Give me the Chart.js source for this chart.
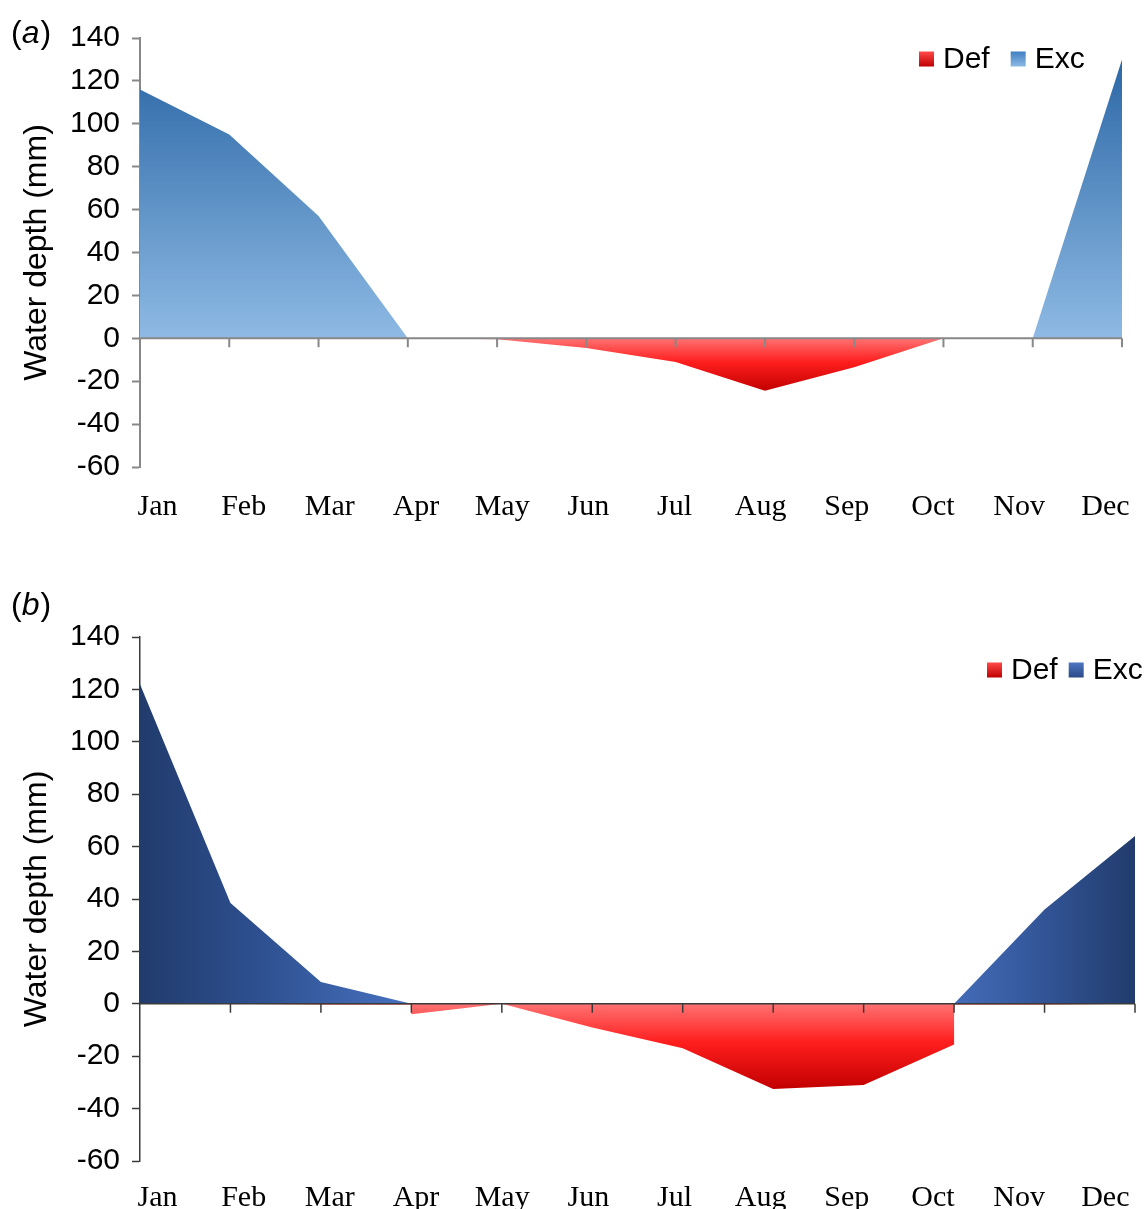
<!DOCTYPE html>
<html>
<head>
<meta charset="utf-8">
<script src="https://cdn.jsdelivr.net/npm/chart.js@4.4.1/dist/chart.umd.min.js"></script>
<style>
  html, body { margin: 0; padding: 0; background: #fff; overflow: hidden; }
  #wrap { position: relative; width: 1148px; height: 1209px; overflow: hidden; }
  canvas { position: absolute; left: 0; }
  #chartA { top: 0; }
  #chartB { top: 558px; }
</style>
</head>
<body>
<div id="wrap">
  <canvas id="chartA" width="1148" height="558"></canvas>
  <canvas id="chartB" width="1148" height="677"></canvas>
</div>
<script>
const months = ['Jan', 'Feb', 'Mar', 'Apr', 'May', 'Jun', 'Jul', 'Aug', 'Sep', 'Oct', 'Nov', 'Dec']
const yMin = -60
const yMax = 140
const yStep = 20

// panel (a), one value per month
const excA = [116, 95, 57, 0, 0, 0, 0, 0, 0, 0, 0, 130]
const defA = [0, 0, 0, 0, -0.4, -4.5, -11, -24.5, -13.5, 0, 0, 0]

// panel (b), Apr and Oct appear twice (the area has a vertical step there)
const excBMonth = [0, 1, 2, 3, 4, 5, 6, 7, 8, 9, 10, 11]
const excB = [122, 38.5, 8.3, 0, 0, 0, 0, 0, 0, 0, 36, 64]
const defBMonth = [0, 1, 2, 3, 3, 4, 5, 6, 7, 8, 9, 9, 10, 11]
const defB = [0, 0, -0.4, -0.4, -4, 0, -9, -17, -32.5, -31, -15.5, -0.4, -0.4, 0]

const sans = '"Liberation Sans", Arial, sans-serif'
const serif = '"Liberation Serif", "Times New Roman", serif'

function toPoints(xs, ys) {
  return ys.map((v, i) => ({ x: xs[i], y: v }))
}

function vGradient(stops, vTop, vBottom) {
  return function (ctx) {
    const chart = ctx.chart
    if (!chart.chartArea) return stops[0][1]
    const y = chart.scales.y
    const g = chart.ctx.createLinearGradient(0, y.getPixelForValue(vTop), 0, y.getPixelForValue(vBottom))
    stops.forEach(s => g.addColorStop(s[0], s[1]))
    return g
  }
}

function hGradient(stops) {
  return function (ctx) {
    const chart = ctx.chart
    const area = chart.chartArea
    if (!area) return stops[0][1]
    const g = chart.ctx.createLinearGradient(area.left, 0, area.right, 0)
    stops.forEach(s => g.addColorStop(s[0], s[1]))
    return g
  }
}

// zero line with the little month ticks hanging under it
const zeroAxis = {
  id: 'zeroAxis',
  afterDatasetsDraw(chart, args, opts) {
    const { ctx, chartArea, scales } = chart
    const y0 = scales.y.getPixelForValue(0)
    ctx.save()
    ctx.strokeStyle = opts.color
    ctx.lineWidth = opts.width
    ctx.beginPath()
    ctx.moveTo(chartArea.left, y0)
    ctx.lineTo(chartArea.right, y0)
    for (let i = 1; i < months.length; i++) {
      const x = scales.x.getPixelForValue(i)
      ctx.moveTo(x, y0)
      ctx.lineTo(x, y0 + 9)
    }
    ctx.stroke()
    ctx.restore()
  }
}

const boxLegend = {
  id: 'boxLegend',
  afterDraw(chart, args, opts) {
    const ctx = chart.ctx
    ctx.save()
    ctx.font = '30px ' + sans
    ctx.textBaseline = 'middle'
    let x = opts.left
    chart.data.datasets.forEach(ds => {
      const g = ctx.createLinearGradient(0, opts.y - 7.5, 0, opts.y + 7.5)
      g.addColorStop(0, ds.legendColors[0])
      g.addColorStop(1, ds.legendColors[1])
      ctx.fillStyle = g
      ctx.fillRect(x, opts.y - 7.5, 15, 15)
      x += 15 + 9
      ctx.fillStyle = '#000'
      ctx.fillText(ds.label, x, opts.y + 1)
      x += ctx.measureText(ds.label).width + opts.gap
    })
    ctx.restore()
  }
}

const panelTag = {
  id: 'panelTag',
  afterDraw(chart, args, opts) {
    const ctx = chart.ctx
    ctx.save()
    ctx.fillStyle = '#000'
    ctx.textBaseline = 'middle'
    let x = opts.x
    ctx.font = '32px ' + sans
    ctx.fillText('(', x, opts.y)
    x += ctx.measureText('(').width
    ctx.font = 'italic 32px ' + sans
    ctx.fillText(opts.letter, x, opts.y)
    x += ctx.measureText(opts.letter).width + 1
    ctx.font = '32px ' + sans
    ctx.fillText(')', x, opts.y)
    ctx.restore()
  }
}

function makePanel(id, p) {
  return new Chart(document.getElementById(id), {
    type: 'line',
    data: {
      datasets: [
        {
          label: 'Def',
          data: p.def,
          fill: 'origin',
          backgroundColor: p.defFill,
          borderColor: 'rgba(0,0,0,0)',
          borderWidth: 0,
          pointRadius: 0,
          tension: 0,
          legendColors: ['#ff4a4a', '#c00000']
        },
        {
          label: 'Exc',
          data: p.exc,
          fill: 'origin',
          backgroundColor: p.excFill,
          borderColor: 'rgba(0,0,0,0)',
          borderWidth: 0,
          pointRadius: 0,
          tension: 0,
          legendColors: p.excLegend
        }
      ]
    },
    options: {
      responsive: false,
      animation: false,
      devicePixelRatio: 1,
      layout: { padding: p.padding },
      scales: {
        x: { type: 'linear', min: 0, max: months.length - 1, display: false },
        xl: {
          type: 'linear',
          position: 'bottom',
          min: p.labelMin,
          max: p.labelMax,
          // month names may hang past the plot edge, don't let them shrink it
          afterFit: s => { s.paddingLeft = 0; s.paddingRight = 0 },
          grid: { display: false, drawTicks: false },
          border: { display: false },
          ticks: {
            stepSize: 1,
            includeBounds: false,
            autoSkip: false,
            maxRotation: 0,
            padding: p.labelPad,
            color: '#000',
            font: { family: serif, size: 30 },
            callback: v => months[v] || ''
          }
        },
        y: {
          min: yMin,
          max: yMax,
          afterFit: s => { s.width = 140 },
          ticks: { stepSize: yStep, padding: 12, color: '#000', font: { family: sans, size: 30 } },
          grid: {
            drawOnChartArea: false,
            tickLength: 8,
            tickColor: p.axisColor,
            tickWidth: p.axisWidth,
            color: p.axisColor
          },
          border: { color: p.axisColor, width: p.axisWidth },
          title: {
            display: true,
            text: 'Water depth (mm)',
            color: '#000',
            font: { family: sans, size: 32 },
            padding: { top: 18, bottom: 0 }
          }
        }
      },
      plugins: {
        legend: { display: false },
        tooltip: { enabled: false },
        zeroAxis: { color: p.axisColor, width: p.axisWidth },
        boxLegend: p.legend,
        panelTag: p.tag
      }
    },
    plugins: [zeroAxis, boxLegend, panelTag]
  })
}

const redStops = [[0, '#ff7272'], [0.45, '#ff1e1e'], [1, '#c20000']]

makePanel('chartA', {
  def: toPoints(months.map((m, i) => i), defA),
  exc: toPoints(months.map((m, i) => i), excA),
  defFill: vGradient(redStops, 0, Math.min(...defA)),
  excFill: vGradient([[0, '#2c68a6'], [1, '#8ebae4']], Math.max(...excA), 0),
  excLegend: ['#3f80c2', '#8cb9e4'],
  axisColor: '#888888',
  axisWidth: 2,
  padding: { left: 0, right: 26, top: 38, bottom: 11 },
  labelMin: -0.203,
  labelMax: 11.193,
  labelPad: 22,
  legend: { left: 919, y: 59, gap: 21 },
  tag: { x: 11, y: 34, letter: 'a' }
})

makePanel('chartB', {
  def: toPoints(defBMonth, defB),
  exc: toPoints(excBMonth, excB),
  defFill: vGradient(redStops, 0, Math.min(...defB)),
  excFill: hGradient([[0, '#213b6c'], [0.12, '#2e5090'], [0.27, '#4771bf'], [0.8, '#4771bf'], [0.9, '#34579a'], [1, '#213b6c']]),
  excLegend: ['#4d76c2', '#2b4a88'],
  axisColor: '#3a3a3a',
  axisWidth: 1.5,
  padding: { left: 0, right: 13, top: 79, bottom: 0 },
  labelMin: -0.203,
  labelMax: 11.344,
  labelPad: 19,
  legend: { left: 987, y: 112, gap: 11 },
  tag: { x: 11, y: 48, letter: 'b' }
})
</script>
</body>
</html>
